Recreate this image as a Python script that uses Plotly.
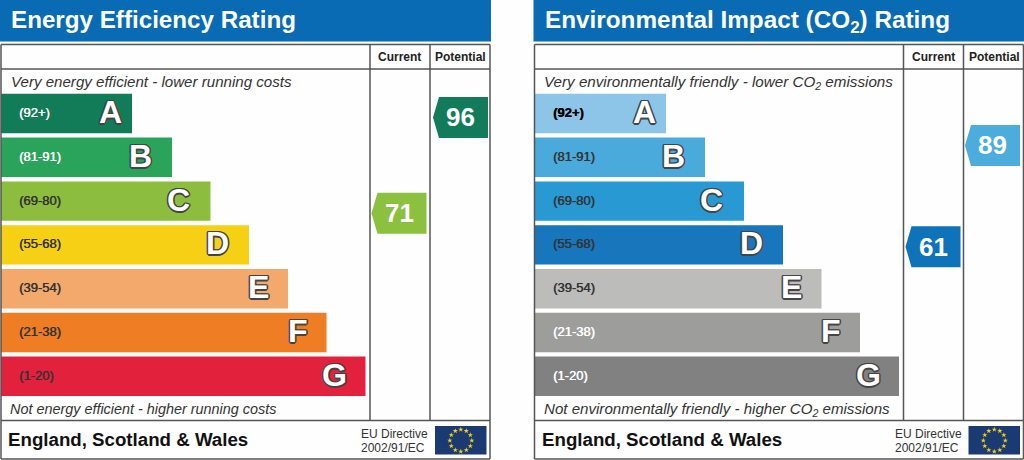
import math
import plotly.graph_objects as go

bands = ["A", "B", "C", "D", "E", "F", "G"]
ranges = ["(92+)", "(81-91)", "(69-80)", "(55-68)", "(39-54)", "(21-38)", "(1-20)"]

energy_lengths = [131, 171, 209.5, 248, 287, 325.5, 364.5]
co2_lengths = [131, 170, 209, 248, 286.5, 325, 364]

energy_colors = ["#127b57", "#2aa35b", "#8dbd3f", "#f6d015", "#f3a96c", "#ee7d24", "#e2213c"]
co2_colors = ["#8cc5e7", "#4aaadb", "#2899d2", "#1876bc", "#bcbcbb", "#9d9d9c", "#818181"]
energy_label_colors = ["#fff", "#fff", "#333", "#333", "#333", "#333", "#333"]
co2_label_colors = ["#000", "#333", "#333", "#333", "#333", "#fff", "#fff"]

# score, row position (in band units), colour
energy_current = (71, 2.28, "#8cc03f")
energy_potential = (96, 0.09, "#127b5a")
co2_current = (61, 3.04, "#0f73b9")
co2_potential = (89, 0.73, "#4cacdc")

FONT = "Liberation Sans"
OUTLINE = "-1px -1px 0 #444, 1px -1px 0 #444, -1px 1px 0 #444, 1px 1px 0 #444, 0 1.5px 0 #444, 0 -1.5px 0 #444, 1.5px 0 0 #444, -1.5px 0 0 #444"
LINE = "#555555"
ARROW = "M -28 0 L -22 -20.5 L 27 -20.5 L 27 20.5 L -22 20.5 Z"
# how far each letter sits in from the end of its bar
LETTER_SHIFT = [-22, -32, -32.5, -31.5, -30, -29, -31]

fig = go.Figure()
shapes = []
notes = []


def row_of(py):
    return (py - 113.5) / 43.8


def px(x):
    return x / 1024


def py(y):
    return 1 - y / 460


def text(x, y, s, size, color="#222", anchor="left", weight="normal", style="normal"):
    notes.append(dict(x=px(x), y=py(y), xref="paper", yref="paper", text=s, showarrow=False,
                      xanchor=anchor, yanchor="middle",
                      font=dict(family=FONT, size=size, color=color, weight=weight, style=style)))


def panel(off, fo, axis, title, title_size, lengths, colors, label_colors, current, potential, pot_col,
          top_note, top_size, bottom_note, bottom_size, sub_shift):
    def line(x0, y0, x1, y1):
        shapes.append(dict(type="line", xref="paper", yref="paper", x0=px(fo + x0), y0=py(y0), x1=px(fo + x1), y1=py(y1),
                           line=dict(color=LINE, width=1.5)))

    # title band
    shapes.append(dict(type="rect", xref="paper", yref="paper", x0=px(fo - 0.5), x1=px(fo + 490.5), y0=py(0), y1=py(41.5),
                       fillcolor="#086bb3", line_width=0, layer="below"))
    text(off + 8, 19.5 + 2 * sub_shift, title, title_size, "#fff", weight="bold")

    # frame
    line(0.5, 44.5, 489.5, 44.5)
    line(0.5, 459, 489.5, 459)
    line(0.5, 44.5, 0.5, 459)
    line(489.5, 44.5, 489.5, 459)
    line(0.5, 69, 489.5, 69)
    line(0.5, 420.5, 489.5, 420.5)
    line(369.5, 44.5, 369.5, 420.5)
    line(429.5, 44.5, 429.5, 420.5)

    text(off + 398, 57, "Current", 12, "#222", "center", "bold")
    text(off + 459.5, 57, "Potential", 12, "#222", "center", "bold")
    text(off + 8 + sub_shift * -1, 81.5 + sub_shift, top_note, top_size, "#333", style="italic")
    text(off + 7, 408.5 + sub_shift, bottom_note, bottom_size, "#333", style="italic")
    text(off + 5, 439.5, "England, Scotland &amp; Wales", 18.7, "#111", weight="bold")
    text(off + 358, 433.5, "EU Directive", 12, "#333")
    text(off + 358, 447.5, "2002/91/EC", 12, "#333")

    fig.add_trace(go.Bar(y=list(range(7)), x=lengths, orientation="h", width=0.9,
                         marker=dict(color=colors, line_width=0), xaxis=axis, yaxis="y",
                         hoverinfo="skip", showlegend=False))

    for i, band in enumerate(bands):
        c = label_colors[i]
        notes.append(dict(x=16, y=i, xref=axis, yref="y", yshift=1, text=ranges[i], showarrow=False, xanchor="left",
                          font=dict(family=FONT, size=13, color=c, shadow="0.4px 0 0 " + c,
                                    weight="bold" if c == "#000" else "normal")))
        notes.append(dict(x=lengths[i], y=i, xref=axis, yref="y", xshift=LETTER_SHIFT[i], yshift=1.5, text=band, showarrow=False,
                          font=dict(family=FONT, size=32, color="#fff", weight="bold", shadow=OUTLINE)))

    for (score, row, color), col in ((current, 398.5), (potential, pot_col)):
        shapes.append(dict(type="path", xref=axis, yref="y", xsizemode="pixel", ysizemode="pixel",
                           xanchor=col, yanchor=row, path=ARROW, fillcolor=color, line_width=0))
        notes.append(dict(x=col, y=row, xref=axis, yref="y", text=str(score), showarrow=False, xshift=-0.5,
                          font=dict(family=FONT, size=26, color="#fff", weight="bold")))

    # EU flag
    shapes.append(dict(type="rect", xref="paper", yref="paper", x0=px(fo + 434.5), x1=px(fo + 486), y0=py(426), y1=py(454.5),
                       fillcolor="#1c3a72", line_width=0, layer="below"))
    stars = [(fo + 460.3 + 11 * math.sin(k * math.pi / 6), 440.5 + 11 * math.cos(k * math.pi / 6)) for k in range(12)]
    fig.add_trace(go.Scatter(x=[s[0] - off for s in stars], y=[row_of(s[1]) for s in stars], mode="markers",
                             marker=dict(symbol="star", size=4, color="#f3d21b"), xaxis=axis, yaxis="y",
                             hoverinfo="skip", showlegend=False))


panel(1, 0.5, "x", "Energy Efficiency Rating", 24.2, energy_lengths, energy_colors, energy_label_colors,
      energy_current, energy_potential, 460,
      "Very energy efficient - lower running costs", 15.1,
      "Not energy efficient - higher running costs", 14.4, 0)
panel(535, 534, "x2", "Environmental Impact (CO<sub>2</sub>) Rating", 24.3, co2_lengths, co2_colors, co2_label_colors,
      co2_current, co2_potential, 458,
      "Very environmentally friendly - lower CO<sub>2</sub> emissions", 15.2,
      "Not environmentally friendly - higher CO<sub>2</sub> emissions", 15.1, 1)

fig.update_layout(
    width=1024, height=460, margin=dict(l=0, r=0, t=0, b=0),
    paper_bgcolor="#fefefe", plot_bgcolor="rgba(0,0,0,0)", barmode="overlay",
    xaxis=dict(domain=[1 / 1024, 491 / 1024], range=[0, 490], visible=False),
    xaxis2=dict(domain=[535 / 1024, 1], range=[0, 489], visible=False),
    yaxis=dict(domain=[0, 1], range=[row_of(460), row_of(0)], visible=False),
    shapes=shapes, annotations=notes,
)

fig.write_html("out.html", config={"displayModeBar": False}, post_script="document.body.style.margin = '0';")
